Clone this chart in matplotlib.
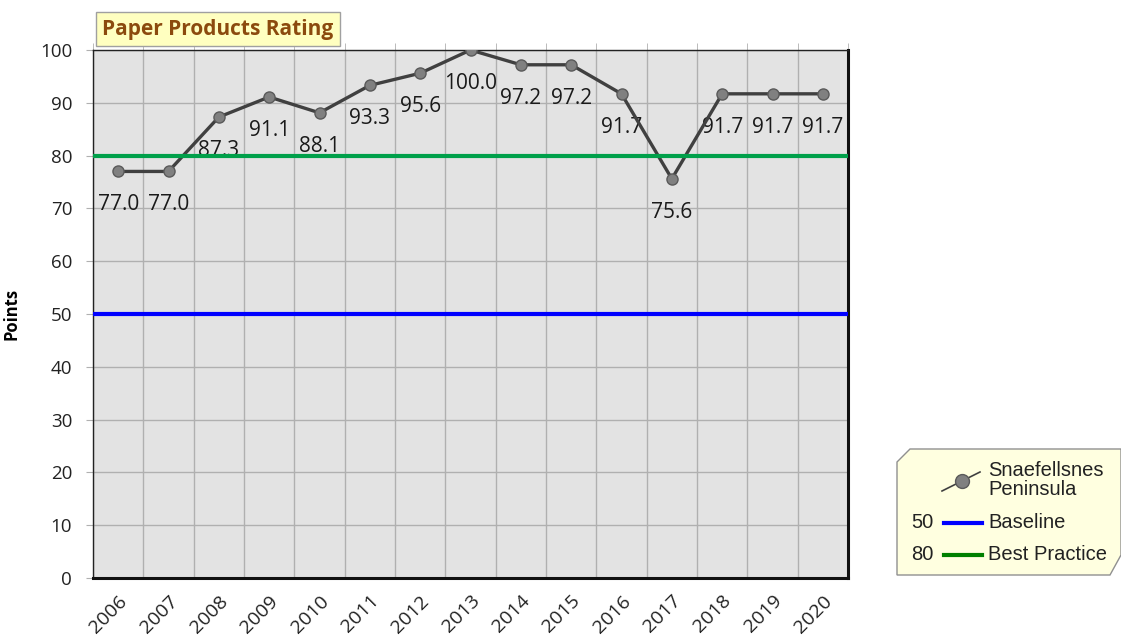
import numpy as np
import matplotlib.pyplot as plt
from matplotlib.patches import Polygon
from matplotlib.lines import Line2D

# data
years = ['2006', '2007', '2008', '2009', '2010', '2011', '2012', '2013',
         '2014', '2015', '2016', '2017', '2018', '2019', '2020']
scores = [77.0, 77.0, 87.3, 91.1, 88.1, 93.3, 95.6, 100.0,
          97.2, 97.2, 91.7, 75.6, 91.7, 91.7, 91.7]
baseline = 50
best_practice = 80
series_name = 'Snaefellsnes\nPeninsula'

plt.rcParams['font.family'] = ['Open Sans', 'DejaVu Sans']

fig = plt.figure(figsize=(11.21, 6.41), dpi=100)
ax = fig.add_axes([93 / 1121, 1 - 578 / 641, 755 / 1121, 528 / 641])
ax.set_facecolor('#E3E3E3')

x = np.arange(len(years))
ax.set_xlim(-0.5, len(years) - 0.5)
ax.set_ylim(0, 100)

# grid: horizontal at ticks, vertical at category boundaries
ax.set_yticks(np.arange(0, 101, 10))
ax.set_xticks(x)
ax.set_xticklabels(years, rotation=45, ha='right', rotation_mode='anchor', fontsize=14)
ax.set_xticks(np.arange(-0.5, len(years)), minor=True)
ax.grid(True, axis='y', color='#B0B0B0', lw=1, zorder=0)
ax.grid(True, axis='x', which='minor', color='#B0B0B0', lw=1, zorder=0)
ax.tick_params(axis='x', which='major', length=0, pad=10)
ax.tick_params(axis='x', which='minor', length=5, color='#B0B0B0', top=True, bottom=False)
ax.tick_params(axis='y', length=5, color='#B0B0B0', labelsize=13.5, colors='#222222', pad=10)
ax.tick_params(axis='x', colors='#222222')
ax.set_axisbelow(True)

for s in ['left', 'top']:
    ax.spines[s].set_color('#222222')
    ax.spines[s].set_linewidth(1)
for s in ['bottom', 'right']:
    ax.spines[s].set_color('#111111')
    ax.spines[s].set_linewidth(2.2)

# series
ax.plot(x, scores, color='#404040', lw=2.4, marker='o', ms=8,
        mfc='#808080', mec='#5A5A5A', mew=1, zorder=4)
for xi, v in zip(x, scores):
    ax.annotate(f'{v:.1f}', (xi, v), xytext=(0, -24), textcoords='offset points',
                ha='center', va='center', fontsize=15, color='#1A1A1A', zorder=3)

ax.axhline(baseline, color='#0000FF', lw=3, zorder=5)
ax.axhline(best_practice, color='#00A04A', lw=3, zorder=5)

ax.set_ylabel('Points', fontsize=12, fontweight='bold', labelpad=14)

# title box
fig.text(102 / 1121, 1 - 29 / 641, 'Paper Products Rating', fontsize=15, fontweight='bold',
         color='#8B4A0E', va='center', ha='left',
         bbox=dict(boxstyle='square,pad=0.3', fc='#FFFFC0', ec='#A0A0A0', lw=1))

# legend box with cut corners
W, H = 1121, 641
pts = [(910, 449), (1121, 449), (1121, 555), (1110, 575), (897, 575), (897, 462)]
poly = Polygon([(px / W, 1 - py / H) for px, py in pts], closed=True,
               fc='#FFFFE0', ec='#909090', lw=1, transform=fig.transFigure)
fig.patches.append(poly)

lg = dict(fontsize=14.5, family='Liberation Sans', color='#222222', va='center')
fig.lines.append(Line2D([942 / W, 980 / W], [1 - 491 / H, 1 - 472 / H], color='#404040',
                        lw=1.2, transform=fig.transFigure))
fig.lines.append(Line2D([962 / W], [1 - 481 / H], marker='o', ms=10, mfc='#808080',
                        mec='#5A5A5A', transform=fig.transFigure))
fig.text(988 / W, 1 - 480 / H, series_name, ha='left', linespacing=1.0, **lg)

fig.lines.append(Line2D([944 / W, 982 / W], [1 - 523 / H] * 2, color='#0000FF', lw=3,
                        transform=fig.transFigure))
fig.text(934 / W, 1 - 523 / H, str(baseline), ha='right', **lg)
fig.text(988 / W, 1 - 523 / H, 'Baseline', ha='left', **lg)

fig.lines.append(Line2D([944 / W, 982 / W], [1 - 555 / H] * 2, color='#008000', lw=3,
                        transform=fig.transFigure))
fig.text(934 / W, 1 - 555 / H, str(best_practice), ha='right', **lg)
fig.text(988 / W, 1 - 555 / H, 'Best Practice', ha='left', **lg)

fig.savefig('out.png', dpi=100)
